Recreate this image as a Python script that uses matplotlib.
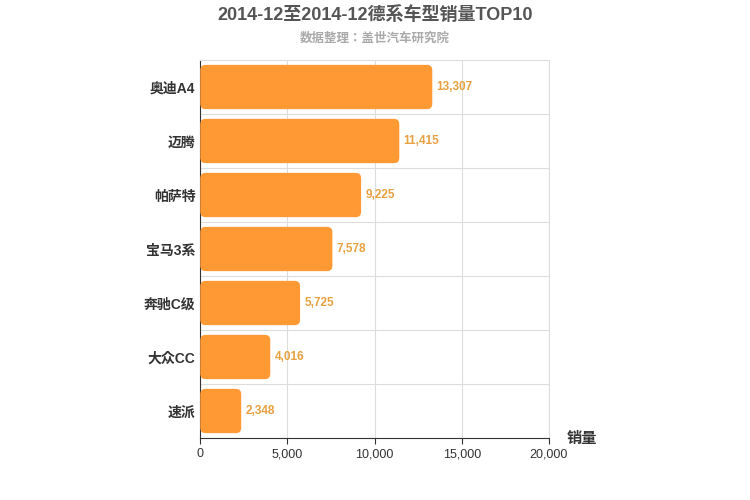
import matplotlib
matplotlib.use("Agg")
import matplotlib.pyplot as plt
from matplotlib.patches import FancyBboxPatch
from matplotlib import font_manager

names = {f.name for f in font_manager.fontManager.ttflist}
cjk = [n for n in ["Noto Sans CJK SC", "Noto Sans CJK JP", "Noto Sans CJK TC", "Noto Sans CJK KR"] if n in names]
plt.rcParams["font.family"] = ["Liberation Sans"] + cjk + ["DejaVu Sans"]

categories = ["奥迪A4", "迈腾", "帕萨特", "宝马3系", "奔驰C级", "大众CC", "速派"]
values = [13307, 11415, 9225, 7578, 5725, 4016, 2348]
xticks = [0, 5000, 10000, 15000, 20000]

fig = plt.figure(figsize=(7.5, 5), dpi=100)
ax = fig.add_axes([0.267, 0.124, 0.465, 0.756])
n = len(categories)
ys = list(range(n))[::-1]
bars = ax.barh(ys, values, height=0.82, color="none")
for b in bars:
    x, y = b.get_x(), b.get_y()
    w, h = b.get_width(), b.get_height()
    p = FancyBboxPatch((x, y), w, h, boxstyle="round,pad=0,rounding_size=300",
                       mutation_aspect=0.00033, facecolor="#FF9933", edgecolor="none", zorder=3)
    ax.add_patch(p)
for y, v in zip(ys, values):
    ax.text(v + 250, y, f"{v:,}", va="center", ha="left", fontsize=8.5,
            color="#E8A040", fontweight="bold", zorder=4)
ax.set_xlim(0, 20000)
ax.set_ylim(-0.5, n - 0.5)
ax.set_yticks(ys)
ax.set_yticklabels(categories, fontsize=10, fontweight="bold", color="#333333")
ax.set_xticks(xticks)
ax.set_xticklabels([f"{t:,}" for t in xticks], fontsize=9, color="#333333")
ax.set_yticks([y + 0.5 for y in range(n - 1)], minor=True)
ax.grid(True, axis="x", color="#DDDDDD", zorder=0)
ax.grid(True, axis="y", which="minor", color="#DDDDDD", zorder=0)
ax.tick_params(axis="y", which="both", length=0)
ax.tick_params(axis="x", length=4, color="#333333")
for s in ["top", "right"]:
    ax.spines[s].set_color("#DDDDDD")
ax.spines["left"].set_color("#333333")
ax.spines["bottom"].set_color("#333333")
fig.text(0.5, 0.97, "2014-12至2014-12德系车型销量TOP10", ha="center", va="center",
         fontsize=13, fontweight="bold", color="#555555")
fig.text(0.5, 0.922, "数据整理：盖世汽车研究院", ha="center", va="center",
         fontsize=9, fontweight="bold", color="#AAAAAA")
fig.text(0.755, 0.123, "销量", ha="left", va="center", fontsize=11, fontweight="bold", color="#333333")
fig.savefig("out.png", dpi=100)
